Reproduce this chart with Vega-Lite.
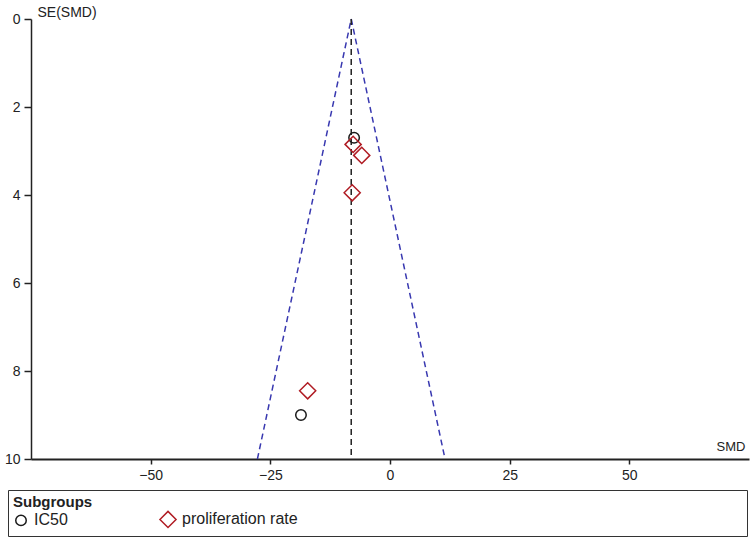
{
  "$schema": "https://vega.github.io/schema/vega-lite/v6.json",
  "width": 718,
  "height": 440,
  "autosize": {"type": "none"},
  "padding": {"left": 31, "top": 19, "right": 5, "bottom": 79},
  "background": "white",
  "config": {
    "view": {"stroke": null},
    "font": "Liberation Sans, Arial, sans-serif",
    "axis": {"grid": false, "labelFontSize": 14, "labelColor": "#222", "titleColor": "#222", "tickColor": "#222", "domainColor": "#222", "labelFont": "Liberation Sans, Arial, sans-serif", "titleFont": "Liberation Sans, Arial, sans-serif"},
    "legend": {"labelFont": "Liberation Sans, Arial, sans-serif", "titleFont": "Liberation Sans, Arial, sans-serif"}
  },
  "datasets": {
    "studies": [
      {"smd": -7.5, "se": 2.7, "group": "IC50"},
      {"smd": -18.6, "se": 9.0, "group": "IC50"},
      {"smd": -7.7, "se": 2.85, "group": "proliferation rate"},
      {"smd": -5.9, "se": 3.1, "group": "proliferation rate"},
      {"smd": -7.9, "se": 3.95, "group": "proliferation rate"},
      {"smd": -17.2, "se": 8.45, "group": "proliferation rate"}
    ],
    "funnel": [
      {"side": "left", "smd": -8.1, "se": 0},
      {"side": "left", "smd": -27.7, "se": 10},
      {"side": "right", "smd": -8.1, "se": 0},
      {"side": "right", "smd": 11.5, "se": 10}
    ],
    "pooled": [{"smd": -8.1}]
  },
  "layer": [
    {
      "data": {"name": "funnel"},
      "mark": {"type": "line", "strokeDash": [6, 4], "color": "#3838b0", "strokeWidth": 1.5},
      "encoding": {
        "x": {
          "field": "smd", "type": "quantitative",
          "scale": {"domain": [-75, 75], "nice": false, "zero": false},
          "axis": {
            "values": [-50, -25, 0, 25, 50],
            "title": "SMD", "titleX": 714, "titleY": -6, "titleAlign": "right", "titleBaseline": "bottom",
            "titleFontWeight": "normal", "titleFontSize": 13,
            "tickSize": 5, "domainWidth": 2, "tickWidth": 1.5, "labelPadding": 4
          }
        },
        "y": {
          "field": "se", "type": "quantitative",
          "scale": {"domain": [0, 10], "reverse": true, "nice": false},
          "axis": {
            "values": [0, 2, 4, 6, 8, 10],
            "title": "SE(SMD)", "titleAngle": 0, "titleX": 6, "titleY": -3, "titleAlign": "left", "titleBaseline": "alphabetic",
            "titleFontWeight": "normal", "titleFontSize": 14,
            "tickSize": 7, "domainWidth": 1.5, "tickWidth": 1.5, "labelPadding": 4
          }
        },
        "detail": {"field": "side"}
      }
    },
    {
      "data": {"name": "pooled"},
      "mark": {"type": "rule", "strokeDash": [6, 4], "color": "#222", "strokeWidth": 1.5},
      "encoding": {"x": {"field": "smd", "type": "quantitative"}}
    },
    {
      "data": {"name": "studies"},
      "mark": {"type": "point", "filled": false, "strokeWidth": 1.5, "opacity": 1},
      "encoding": {
        "x": {"field": "smd", "type": "quantitative"},
        "y": {"field": "se", "type": "quantitative"},
        "shape": {"field": "group", "type": "nominal", "scale": {"domain": ["IC50", "proliferation rate"], "range": ["circle", "diamond"]}},
        "color": {"field": "group", "type": "nominal", "scale": {"domain": ["IC50", "proliferation rate"], "range": ["#1a1a1a", "#b01c24"]}},
        "size": {"field": "group", "type": "nominal", "scale": {"domain": ["IC50", "proliferation rate"], "range": [110, 260]},
          "legend": {
            "orient": "none", "legendX": -23, "legendY": 471, "direction": "horizontal",
            "title": "Subgroups", "titleFontWeight": "bold", "titleFontSize": 15, "titleColor": "#222", "titlePadding": 0,
            "labelFontSize": 16, "labelColor": "#222", "labelLimit": 800, "labelOffset": 5,
            "labelExpr": "datum.label == 'proliferation rate' ? pad(datum.label, 55, '\u2800') : datum.label",
            "strokeColor": "#333", "padding": 5, "columnPadding": 88, "symbolStrokeWidth": 1.5
          }
        }
      }
    }
  ]
}
